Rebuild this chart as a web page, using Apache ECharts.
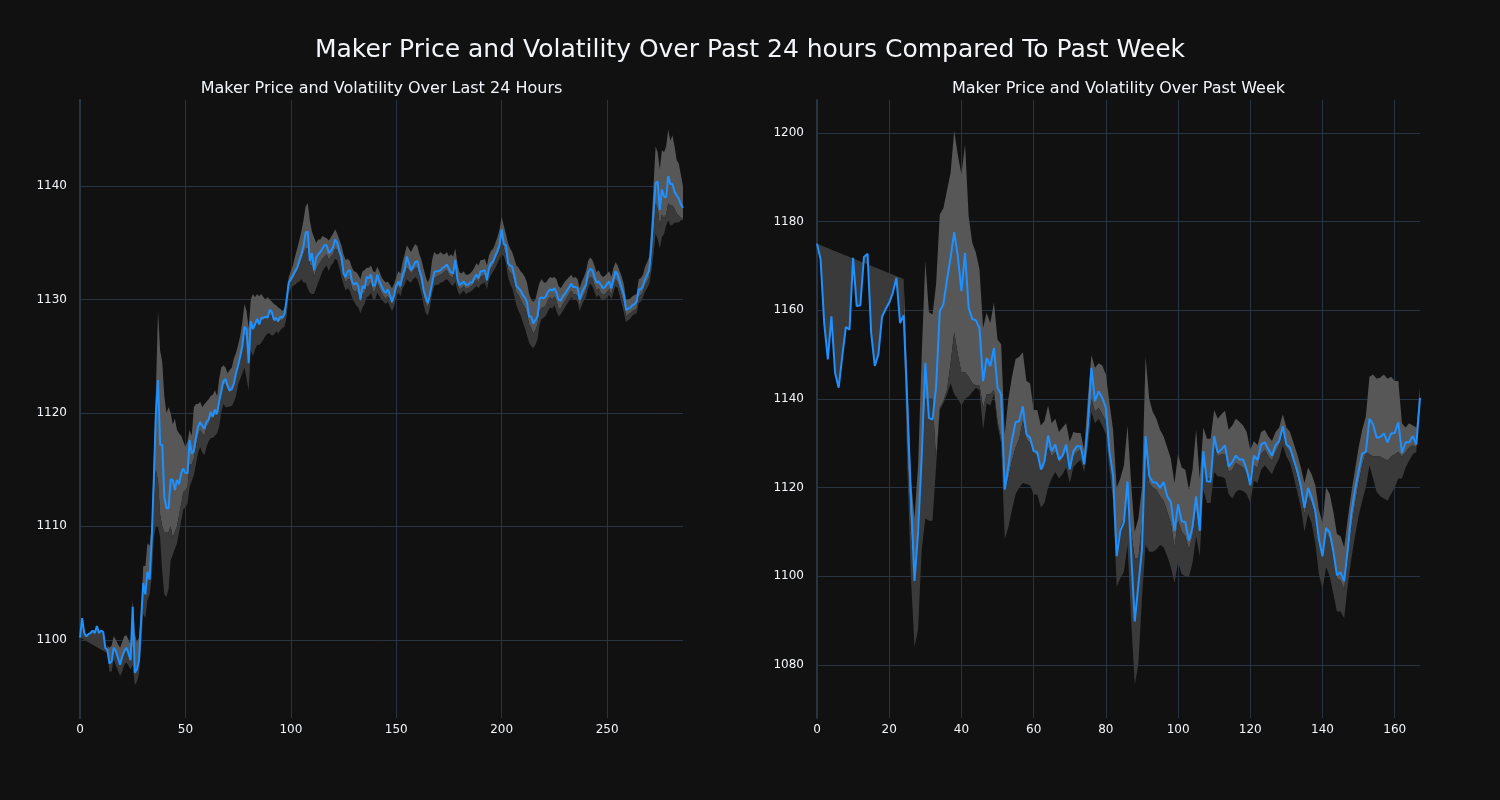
<!DOCTYPE html>
<html>
<head>
<meta charset="utf-8">
<script src="https://cdn.jsdelivr.net/npm/echarts@6/dist/echarts.min.js"></script>
<style>
html,body{margin:0;padding:0;background:#111111;}
#chart{width:1500px;height:800px;}
</style>
</head>
<body>
<div id="chart"></div>
<script>
// ---------------- DATA ----------------
const mainTitle = 'Maker Price and Volatility Over Past 24 hours Compared To Past Week';
const leftTitle = 'Maker Price and Volatility Over Last 24 Hours';
const rightTitle = 'Maker Price and Volatility Over Past Week';

const leftXTicks = [0, 50, 100, 150, 200, 250];
const leftYTicks = [1100, 1110, 1120, 1130, 1140];
const rightXTicks = [0, 20, 40, 60, 80, 100, 120, 140, 160];
const rightYTicks = [1080, 1100, 1120, 1140, 1160, 1180, 1200];

// Last 24 hours: price (index = step)
const leftPrice = [
1100.2,1101.9,1100.6,1100.3,1100.5,1100.6,1100.8,1100.6,1101.2,1100.6,
1100.8,1100.7,1099.3,1099.1,1097.9,1098.1,1099.3,1099.0,1098.4,1097.8,
1098.5,1099.0,1099.3,1098.8,1098.2,1102.9,1097.1,1097.4,1098.2,1101.8,
1105.0,1104.0,1106.0,1105.3,1108.8,1114.1,1120.0,1122.9,1117.2,1117.2,
1112.6,1111.6,1111.6,1114.1,1114.1,1113.2,1114.1,1113.7,1114.7,1115.1,
1114.7,1114.7,1117.6,1116.4,1116.7,1117.8,1118.8,1119.2,1118.9,1118.6,
1119.2,1119.4,1120.1,1119.7,1120.3,1119.9,1121.0,1121.9,1122.8,1123.0,
1122.4,1122.0,1122.1,1122.6,1123.5,1124.2,1125.0,1125.9,1127.6,1127.4,
1124.4,1128.1,1127.4,1127.8,1128.3,1127.8,1128.4,1128.4,1128.5,1128.4,
1129.1,1128.9,1128.2,1128.4,1128.1,1128.5,1128.4,1128.7,1130.0,1131.5,
1131.8,1132.1,1132.5,1132.8,1133.4,1134.0,1134.7,1135.9,1136.0,1133.4,
1134.1,1132.6,1133.7,1134.0,1134.2,1134.5,1134.8,1134.8,1134.1,1134.3,
1134.6,1135.3,1135.0,1134.3,1133.8,1132.3,1132.0,1132.5,1132.6,1131.6,
1131.3,1131.5,1131.2,1130.0,1131.2,1131.0,1132.0,1131.9,1132.2,1131.2,
1131.3,1132.2,1131.6,1131.2,1130.8,1130.6,1130.9,1130.4,1129.8,1130.4,
1131.2,1131.6,1131.2,1132.2,1132.6,1133.8,1133.2,1132.6,1132.9,1133.3,
1133.4,1132.6,1132.0,1130.8,1130.2,1129.7,1130.5,1131.4,1132.4,1132.5,
1132.5,1132.6,1132.8,1132.9,1133.1,1132.7,1132.4,1132.3,1133.5,1131.8,
1131.3,1131.4,1131.6,1131.3,1131.3,1131.5,1131.5,1131.9,1132.2,1131.9,
1132.5,1132.5,1132.6,1131.7,1132.8,1133.2,1133.4,1133.9,1134.3,1134.8,
1136.2,1134.9,1134.8,1133.2,1133.0,1132.9,1132.1,1131.2,1131.0,1130.8,
1130.4,1130.2,1129.8,1128.5,1128.5,1127.9,1128.2,1128.5,1130.1,1130.2,
1130.1,1130.3,1130.7,1130.9,1130.8,1131.0,1130.6,1130.0,1129.9,1130.3,
1130.5,1130.8,1131.1,1131.4,1131.1,1131.1,1131.0,1130.0,1130.6,1131.0,
1131.3,1132.4,1132.7,1132.6,1132.0,1131.5,1131.6,1131.3,1131.0,1131.1,
1131.4,1131.6,1131.0,1131.8,1132.5,1132.2,1131.6,1131.0,1130.4,1129.1,
1129.2,1129.3,1129.5,1129.6,1129.8,1130.9,1130.9,1131.2,1131.8,1132.2,
1132.6,1134.8,1137.6,1140.3,1140.4,1137.9,1139.7,1139.1,1139.0,1140.9,
1140.2,1140.2,1139.5,1139.2,1138.9,1138.4,1138.1
];
const leftUpper = [
null,null,null,null,null,null,null,null,null,null,
null,null,null,1099.5,1099.3,1099.5,1100.3,1100.0,1099.6,1099.3,
1099.8,1100.3,1100.4,1100.0,1099.6,1103.5,1100.5,1099.8,1100.2,1102.5,
1106.5,1106.5,1108.5,1108.3,1110.0,1116.0,1122.0,1129.0,1125.5,1124.5,
1121.5,1120.0,1120.5,1120.0,1119.0,1119.5,1118.5,1118.2,1118.0,1117.5,
1117.0,1117.5,1118.5,1118.0,1120.5,1120.8,1120.8,1121.0,1120.5,1120.8,
1121.0,1121.2,1121.5,1121.6,1122.0,1121.5,1123.0,1124.0,1124.2,1124.0,
1123.5,1123.8,1124.0,1124.8,1125.3,1126.0,1126.8,1128.0,1129.6,1129.0,
1127.5,1130.0,1130.5,1130.2,1130.5,1130.3,1130.5,1130.2,1130.0,1130.2,
1130.0,1129.8,1129.6,1129.5,1129.3,1129.2,1129.0,1129.2,1130.5,1132.0,
1132.5,1133.0,1133.8,1134.5,1135.2,1136.0,1137.0,1138.2,1138.5,1137.0,
1136.0,1135.5,1135.0,1135.3,1135.3,1135.6,1135.5,1135.4,1135.2,1135.5,
1135.8,1136.2,1135.8,1135.3,1134.8,1134.0,1133.5,1133.6,1133.4,1132.8,
1132.5,1132.4,1132.2,1131.8,1132.5,1132.6,1132.8,1132.8,1133.0,1132.5,
1132.4,1132.9,1132.5,1132.0,1131.7,1131.5,1131.6,1131.3,1131.0,1131.4,
1132.0,1132.5,1132.3,1133.3,1134.0,1134.8,1134.5,1134.2,1134.6,1134.9,
1134.7,1134.0,1133.5,1132.7,1132.0,1131.5,1132.0,1133.5,1134.2,1134.0,
1134.0,1134.2,1134.0,1134.0,1134.2,1133.8,1134.0,1133.8,1134.5,1133.2,
1132.4,1132.3,1132.5,1132.2,1132.2,1132.3,1132.5,1132.8,1133.2,1133.0,
1133.5,1133.5,1133.6,1133.0,1133.9,1134.3,1134.5,1135.0,1135.5,1136.2,
1137.3,1136.5,1135.8,1135.0,1134.5,1134.2,1133.6,1133.0,1132.8,1132.5,
1132.3,1132.0,1131.5,1130.5,1130.0,1129.8,1130.0,1130.8,1131.5,1131.8,
1131.5,1131.5,1131.8,1132.0,1131.9,1132.0,1131.8,1131.2,1131.0,1131.3,
1131.6,1131.8,1132.0,1132.2,1131.9,1132.0,1131.8,1131.0,1131.6,1132.0,
1132.5,1133.4,1133.7,1133.5,1133.0,1132.4,1132.6,1132.2,1132.0,1132.1,
1132.3,1132.5,1132.0,1132.8,1133.3,1133.0,1132.5,1132.0,1131.3,1130.0,
1130.0,1130.1,1130.3,1130.4,1130.5,1131.8,1131.9,1132.2,1132.9,1133.3,
1133.8,1136.5,1140.0,1143.5,1143.0,1141.5,1143.2,1143.0,1143.5,1145.0,
1144.0,1144.5,1143.5,1142.3,1142.0,1141.0,1140.0
];
const leftMid = [
null,null,null,null,null,null,null,null,null,null,
null,null,null,1099.1,1098.3,1098.3,1099.3,1099.0,1098.5,1098.0,
1098.5,1099.0,1099.3,1098.8,1098.3,1099.5,1097.4,1097.6,1098.4,1101.0,
1104.5,1104.0,1105.8,1105.5,1108.0,1112.0,1115.0,1114.0,1111.0,1110.0,
1109.5,1109.5,1109.5,1110.0,1109.0,1109.5,1110.0,1111.0,1112.0,1113.0,
1113.2,1113.5,1115.5,1115.5,1116.0,1117.0,1118.0,1118.5,1118.2,1118.0,
1118.8,1119.0,1119.6,1119.5,1119.8,1119.8,1120.5,1121.5,1122.5,1122.5,
1122.0,1121.8,1122.0,1122.5,1123.2,1124.0,1124.8,1125.8,1127.0,1126.5,
1124.5,1127.5,1127.2,1127.6,1128.0,1127.7,1128.2,1128.2,1128.3,1128.3,
1128.7,1128.6,1128.0,1128.1,1127.9,1128.2,1128.2,1128.5,1129.8,1131.0,
1131.5,1131.8,1132.2,1132.5,1133.0,1133.5,1134.0,1134.5,1134.5,1133.0,
1133.0,1132.0,1132.6,1133.0,1133.3,1133.6,1133.8,1134.0,1133.5,1133.8,
1134.0,1134.5,1134.4,1133.8,1133.0,1132.0,1131.5,1131.8,1131.8,1131.0,
1130.7,1130.8,1130.5,1129.7,1130.5,1130.6,1131.2,1131.2,1131.5,1130.7,
1130.8,1131.5,1131.0,1130.6,1130.3,1130.1,1130.3,1130.0,1129.5,1130.0,
1130.8,1131.2,1130.8,1131.6,1132.0,1132.8,1132.6,1132.3,1132.5,1132.8,
1132.8,1132.0,1131.3,1130.3,1129.6,1129.3,1130.0,1131.2,1132.0,1132.0,
1132.1,1132.2,1132.3,1132.5,1132.6,1132.2,1132.0,1132.0,1132.8,1131.3,
1130.9,1131.0,1131.2,1130.9,1131.0,1131.1,1131.2,1131.5,1131.8,1131.5,
1132.0,1132.1,1132.2,1131.4,1132.4,1132.8,1133.0,1133.5,1133.9,1134.4,
1135.6,1134.5,1134.0,1132.7,1132.4,1132.2,1131.5,1130.6,1130.4,1130.0,
1129.6,1129.3,1128.8,1127.8,1127.5,1127.0,1127.3,1127.8,1129.0,1129.3,
1129.3,1129.5,1130.0,1130.2,1130.0,1130.3,1129.9,1129.2,1129.2,1129.6,
1129.9,1130.2,1130.5,1130.8,1130.5,1130.5,1130.3,1129.4,1130.0,1130.4,
1130.8,1131.7,1132.0,1131.9,1131.3,1130.8,1131.0,1130.6,1130.4,1130.5,
1130.7,1130.9,1130.4,1131.2,1131.8,1131.5,1130.9,1130.3,1129.6,1128.5,
1128.7,1128.8,1129.0,1129.1,1129.2,1130.3,1130.4,1130.7,1131.3,1131.6,
1132.0,1133.5,1136.0,1138.5,1138.0,1136.5,1137.5,1137.2,1137.5,1138.5,
1138.3,1138.3,1138.0,1137.6,1137.4,1137.2,1137.2
];
const leftLower = [
null,null,null,null,null,null,null,null,null,null,
null,null,null,1098.6,1097.2,1097.2,1098.3,1097.7,1097.3,1096.8,
1097.2,1097.8,1098.0,1097.7,1097.4,1097.8,1096.0,1096.3,1097.0,1099.5,
1102.3,1101.9,1103.5,1104.0,1105.5,1109.0,1110.0,1110.0,1109.0,1106.0,
1104.0,1103.8,1104.5,1107.0,1107.5,1108.0,1108.5,1109.5,1110.5,1111.5,
1111.7,1112.0,1113.5,1114.0,1114.5,1115.5,1116.5,1117.0,1116.5,1116.3,
1117.0,1117.5,1117.8,1117.8,1118.0,1118.2,1118.8,1120.0,1120.8,1120.5,
1120.5,1120.6,1120.6,1121.0,1121.5,1122.5,1123.0,1123.5,1124.0,1123.0,
1122.0,1125.5,1125.0,1125.6,1126.0,1126.0,1126.2,1126.5,1126.8,1127.0,
1127.0,1126.8,1126.9,1127.2,1127.0,1127.3,1127.5,1127.6,1128.5,1130.5,
1131.0,1131.2,1131.3,1131.5,1131.6,1131.8,1131.5,1131.5,1131.0,1130.6,
1130.5,1130.5,1131.0,1131.5,1132.0,1132.5,1132.8,1133.0,1132.5,1133.0,
1133.2,1133.6,1133.5,1132.8,1132.0,1131.3,1130.8,1131.0,1130.8,1130.2,
1129.8,1129.5,1129.3,1128.8,1129.3,1129.6,1130.2,1130.3,1130.6,1130.0,
1130.0,1130.6,1130.3,1130.0,1129.8,1129.6,1129.8,1129.4,1129.0,1129.4,
1130.2,1130.6,1130.3,1131.0,1131.3,1131.8,1131.6,1131.5,1131.8,1132.0,
1131.8,1131.2,1130.5,1129.5,1128.8,1128.6,1129.3,1130.5,1131.2,1131.3,
1131.3,1131.5,1131.5,1131.7,1131.8,1131.6,1131.3,1131.2,1131.6,1130.8,
1130.4,1130.6,1130.8,1130.5,1130.6,1130.7,1130.8,1131.0,1131.2,1131.0,
1131.3,1131.4,1131.5,1130.9,1131.8,1132.2,1132.5,1132.8,1133.2,1133.6,
1134.0,1133.8,1133.3,1132.0,1131.4,1131.0,1130.3,1129.5,1129.0,1128.6,
1128.0,1127.5,1126.8,1126.2,1125.9,1125.7,1126.0,1126.5,1127.8,1128.3,
1128.4,1128.6,1129.0,1129.3,1129.2,1129.5,1129.0,1128.5,1128.7,1129.0,
1129.3,1129.6,1129.9,1130.2,1130.0,1130.0,1129.8,1129.0,1129.5,1129.9,
1130.2,1131.0,1131.4,1131.2,1130.7,1130.2,1130.4,1130.1,1129.9,1130.0,
1130.2,1130.4,1130.0,1130.6,1131.2,1131.0,1130.3,1129.6,1128.8,1128.0,
1128.2,1128.3,1128.6,1128.7,1128.8,1129.7,1129.8,1130.2,1130.7,1131.0,
1131.4,1132.5,1134.0,1135.8,1135.3,1134.5,1135.5,1135.8,1136.5,1137.0,
1136.5,1136.6,1136.8,1136.8,1136.8,1137.0,1137.0
];
const leftWarmEnd = [13, 1098.8];

// Past week
const rightPrice = [
1175.0,1171.4,1157.0,1148.9,1158.6,1145.9,1142.5,1149.6,1156.2,1155.6,
1171.8,1160.9,1161.1,1172.0,1172.7,1154.9,1147.4,1150.0,1158.5,1160.2,
1161.7,1163.9,1167.3,1157.1,1158.8,1139.0,1118.0,1098.9,1110.0,1127.0,
1148.1,1135.7,1135.3,1142.9,1159.8,1161.3,1166.9,1171.8,1177.6,1172.2,
1164.3,1172.9,1160.5,1158.0,1157.7,1156.0,1144.0,1149.2,1147.4,1151.5,
1142.5,1141.0,1119.5,1124.8,1130.8,1134.7,1135.0,1138.3,1132.0,1131.2,
1128.2,1128.0,1124.1,1125.9,1131.7,1128.2,1129.7,1126.3,1127.2,1129.7,
1124.1,1128.2,1129.3,1129.3,1125.2,1133.8,1147.0,1139.5,1141.7,1140.2,
1138.0,1128.2,1122.6,1104.5,1110.2,1112.2,1121.4,1105.3,1089.8,1098.0,
1106.0,1131.6,1122.6,1121.2,1121.1,1119.9,1121.2,1118.0,1116.7,1110.2,
1116.2,1112.4,1112.2,1108.0,1111.1,1118.0,1110.2,1128.2,1121.4,1121.3,
1131.6,1127.8,1128.6,1129.5,1124.7,1125.7,1127.2,1126.3,1126.3,1124.1,
1120.5,1127.2,1126.2,1129.7,1130.2,1128.6,1127.2,1129.5,1130.5,1133.8,
1129.7,1129.0,1126.3,1123.7,1120.3,1115.4,1119.9,1117.7,1114.7,1108.3,
1104.5,1110.9,1109.8,1105.6,1100.2,1100.9,1098.9,1106.0,1114.3,1119.5,
1123.7,1127.7,1128.0,1135.5,1134.2,1131.2,1131.4,1132.2,1130.2,1132.2,
1132.3,1134.7,1127.8,1130.2,1130.2,1131.6,1129.7,1140.2
];
const rightUpper = [
null,null,null,null,null,null,null,null,null,null,
null,null,null,null,null,null,null,null,null,null,
null,null,null,null,1167.0,1145.0,1122.0,1113.0,1125.0,1150.0,
1171.0,1159.5,1159.0,1166.0,1181.6,1183.0,1187.0,1191.0,1200.5,1195.0,
1190.6,1197.4,1181.2,1175.2,1173.0,1169.2,1156.0,1159.4,1157.1,1161.7,
1153.4,1152.3,1132.0,1140.0,1145.0,1149.0,1149.5,1150.5,1144.0,1143.5,
1137.5,1137.5,1134.0,1135.0,1138.5,1134.5,1135.5,1132.5,1133.5,1134.5,
1130.3,1132.5,1132.3,1132.3,1128.5,1140.0,1149.8,1147.0,1148.0,1147.5,
1145.5,1139.0,1133.0,1120.0,1122.0,1125.0,1134.0,1121.0,1110.0,1113.0,
1120.0,1149.5,1140.0,1137.0,1135.5,1133.0,1131.5,1129.0,1126.5,1121.0,
1127.5,1124.5,1124.0,1119.5,1124.0,1133.0,1122.0,1133.5,1131.0,1131.0,
1137.5,1135.5,1136.5,1137.3,1133.0,1134.0,1135.5,1134.8,1134.0,1132.5,
1128.5,1130.5,1129.5,1132.5,1133.0,1131.5,1130.5,1132.5,1133.5,1136.5,
1133.5,1132.5,1130.0,1127.5,1124.5,1121.0,1124.5,1123.0,1120.5,1115.0,
1112.0,1120.0,1118.5,1114.5,1109.5,1109.0,1106.5,1113.0,1119.0,1124.0,
1129.0,1133.0,1136.0,1145.0,1145.5,1144.5,1144.8,1145.5,1144.5,1145.0,
1144.0,1144.0,1134.5,1133.5,1134.5,1134.0,1133.5,1142.5
];
const rightMid = [
null,null,null,null,null,null,null,null,null,null,
null,null,null,null,null,null,null,null,null,null,
null,null,null,null,1160.0,1128.0,1110.0,1100.0,1112.0,1125.0,
1140.0,1140.0,1140.0,1126.0,1138.0,1139.5,1142.0,1148.0,1155.0,1150.0,
1146.0,1146.0,1145.0,1143.5,1143.0,1143.0,1138.0,1141.0,1141.0,1142.0,
1135.0,1131.0,1119.0,1122.0,1126.0,1129.0,1131.0,1135.0,1131.0,1130.0,
1128.0,1127.0,1123.5,1124.5,1129.0,1127.0,1128.0,1125.5,1126.5,1128.0,
1123.5,1127.0,1128.0,1128.5,1124.5,1132.0,1140.0,1137.0,1138.0,1136.5,
1135.0,1128.0,1122.0,1106.0,1111.0,1113.0,1121.0,1110.0,1104.0,1104.0,
1112.0,1128.0,1121.0,1120.0,1119.5,1118.0,1117.0,1114.5,1112.0,1106.5,
1112.5,1110.0,1109.0,1106.0,1109.0,1115.0,1109.5,1125.0,1122.0,1122.0,
1129.5,1127.0,1127.5,1127.5,1123.5,1124.0,1125.5,1125.0,1124.5,1123.0,
1120.0,1125.0,1124.5,1127.5,1128.5,1127.0,1126.0,1128.0,1129.5,1132.5,
1129.0,1128.0,1125.5,1122.5,1119.0,1114.0,1118.0,1116.5,1113.5,1107.0,
1104.0,1110.0,1108.5,1105.0,1099.5,1099.0,1097.0,1104.5,1111.0,1116.0,
1121.0,1125.0,1128.0,1127.5,1127.0,1127.0,1127.0,1126.5,1126.0,1127.0,
1127.5,1128.0,1127.0,1128.0,1129.0,1129.5,1129.0,1141.0
];
const rightLower = [
null,null,null,null,null,null,null,null,null,null,
null,null,null,null,null,null,null,null,null,null,
null,null,null,null,1157.0,1125.0,1100.0,1084.0,1088.0,1106.0,
1113.0,1112.5,1112.5,1125.0,1137.5,1139.0,1141.0,1143.5,1141.0,1140.0,
1138.5,1140.0,1140.5,1141.5,1142.5,1142.0,1133.0,1139.0,1138.5,1141.0,
1134.0,1130.0,1108.3,1111.0,1115.0,1118.5,1120.0,1121.0,1120.8,1120.5,
1118.4,1118.4,1115.5,1116.5,1120.0,1122.0,1123.5,1122.0,1123.0,1124.5,
1121.0,1124.5,1125.5,1126.2,1123.5,1129.0,1137.0,1134.5,1135.5,1134.0,
1132.0,1124.0,1117.0,1097.5,1099.5,1101.0,1107.0,1090.0,1075.5,1080.0,
1095.0,1107.0,1105.5,1105.5,1106.0,1107.0,1106.5,1104.5,1102.0,1098.5,
1103.0,1100.5,1100.0,1099.8,1103.0,1109.0,1104.5,1119.5,1116.5,1116.5,
1123.5,1122.5,1122.5,1122.0,1118.5,1117.5,1119.0,1119.5,1119.2,1118.5,
1116.5,1121.5,1121.0,1124.0,1125.0,1124.0,1123.0,1125.0,1126.5,1129.5,
1127.0,1125.5,1122.5,1119.0,1115.5,1110.0,1114.0,1112.0,1107.5,1100.5,
1097.0,1102.0,1100.0,1096.0,1092.0,1092.0,1090.5,1098.0,1104.0,1109.0,
1113.5,1117.0,1120.0,1125.0,1122.0,1119.0,1118.0,1117.5,1117.0,1118.5,
1120.0,1122.0,1122.0,1124.5,1126.0,1127.5,1128.0,1140.0
];
const rightWarmEnd = [24, 1167.0];

// ---------------- STYLE ----------------
const BG = '#111111';
const TEXT = '#f2f5fa';
const GRID = '#283442';
const LINE = '#1e90ff';
const LIGHT = '#575757';
const DARK = '#3a3a3a';
const FONT = '"DejaVu Sans", sans-serif';

function pairs(arr) { return arr.map((v, i) => [i, v]); }

// polygon between two traces (a forward, b backward), as plotly "tonexty"
function bandSeries(idx, a, b, color, z) {
  return {
    type: 'custom', xAxisIndex: idx, yAxisIndex: idx, z: z, silent: true, clip: true,
    data: [[0, 0]],
    renderItem: function (params, api) {
      const pts = [];
      for (let i = 0; i < a.length; i++) if (a[i] != null) pts.push(api.coord([i, a[i]]));
      for (let i = b.length - 1; i >= 0; i--) if (b[i] != null) pts.push(api.coord([i, b[i]]));
      return { type: 'polygon', shape: { points: pts }, style: { fill: color } };
    }
  };
}
function warmSeries(idx, price, end, color, z) {
  return {
    type: 'custom', xAxisIndex: idx, yAxisIndex: idx, z: z, silent: true, clip: true,
    data: [[0, 0]],
    renderItem: function (params, api) {
      const pts = [api.coord([0, price[0]]), api.coord([end[0], end[1]])];
      for (let i = end[0]; i >= 0; i--) pts.push(api.coord([i, price[i]]));
      return { type: 'polygon', shape: { points: pts }, style: { fill: color } };
    }
  };
}

function xAxisCfg(idx, max, ticks) {
  return {
    type: 'value', gridIndex: idx, min: 0, max: max,
    axisLine: { show: false },
    axisTick: { show: false, customValues: ticks },
    axisLabel: { customValues: ticks, color: TEXT, fontSize: 12, fontFamily: FONT, margin: 6,
      formatter: function (v) { return String(v); } },
    splitLine: { show: true, lineStyle: { color: GRID, width: 1 } }
  };
}
function yAxisCfg(idx, min, max, ticks) {
  return {
    type: 'value', gridIndex: idx, min: min, max: max,
    axisLine: { show: true, onZero: false, lineStyle: { color: GRID, width: 2 } },
    axisTick: { show: false, customValues: ticks },
    axisLabel: { customValues: ticks, color: TEXT, fontSize: 12, fontFamily: FONT, margin: 13,
      formatter: function (v) { return String(v); } },
    splitLine: { show: true, lineStyle: { color: GRID, width: 1 } }
  };
}

const chart = echarts.init(document.getElementById('chart'), null, { renderer: 'canvas' });
chart.setOption({
  backgroundColor: BG,
  animation: false,
  graphic: [
    { type: 'text', x: 750, y: 50, style: { text: mainTitle, fill: TEXT, font: '25px ' + FONT, textAlign: 'center', textVerticalAlign: 'middle' } },
    { type: 'text', x: 381.5, y: 89, style: { text: leftTitle, fill: TEXT, font: '16px ' + FONT, textAlign: 'center', textVerticalAlign: 'middle' } },
    { type: 'text', x: 1118.5, y: 89, style: { text: rightTitle, fill: TEXT, font: '16px ' + FONT, textAlign: 'center', textVerticalAlign: 'middle' } }
  ],
  grid: [
    { left: 80, top: 100, width: 603, height: 618 },
    { left: 817, top: 100, width: 603, height: 618 }
  ],
  xAxis: [xAxisCfg(0, 286, leftXTicks), xAxisCfg(1, 167, rightXTicks)],
  yAxis: [yAxisCfg(0, 1093.1, 1147.6, leftYTicks), yAxisCfg(1, 1068.0, 1207.4, rightYTicks)],
  series: [
    bandSeries(0, leftUpper, leftMid, LIGHT, 2),
    bandSeries(0, leftMid, leftLower, DARK, 3),
    warmSeries(0, leftPrice, leftWarmEnd, DARK, 3),
    { type: 'line', xAxisIndex: 0, yAxisIndex: 0, data: pairs(leftPrice), symbol: 'none', z: 5,
      lineStyle: { color: LINE, width: 2 }, silent: true },
    bandSeries(1, rightUpper, rightMid, LIGHT, 2),
    bandSeries(1, rightMid, rightLower, DARK, 3),
    warmSeries(1, rightPrice, rightWarmEnd, DARK, 3),
    { type: 'line', xAxisIndex: 1, yAxisIndex: 1, data: pairs(rightPrice), symbol: 'none', z: 5,
      lineStyle: { color: LINE, width: 2 }, silent: true }
  ]
});
</script>
</body>
</html>
